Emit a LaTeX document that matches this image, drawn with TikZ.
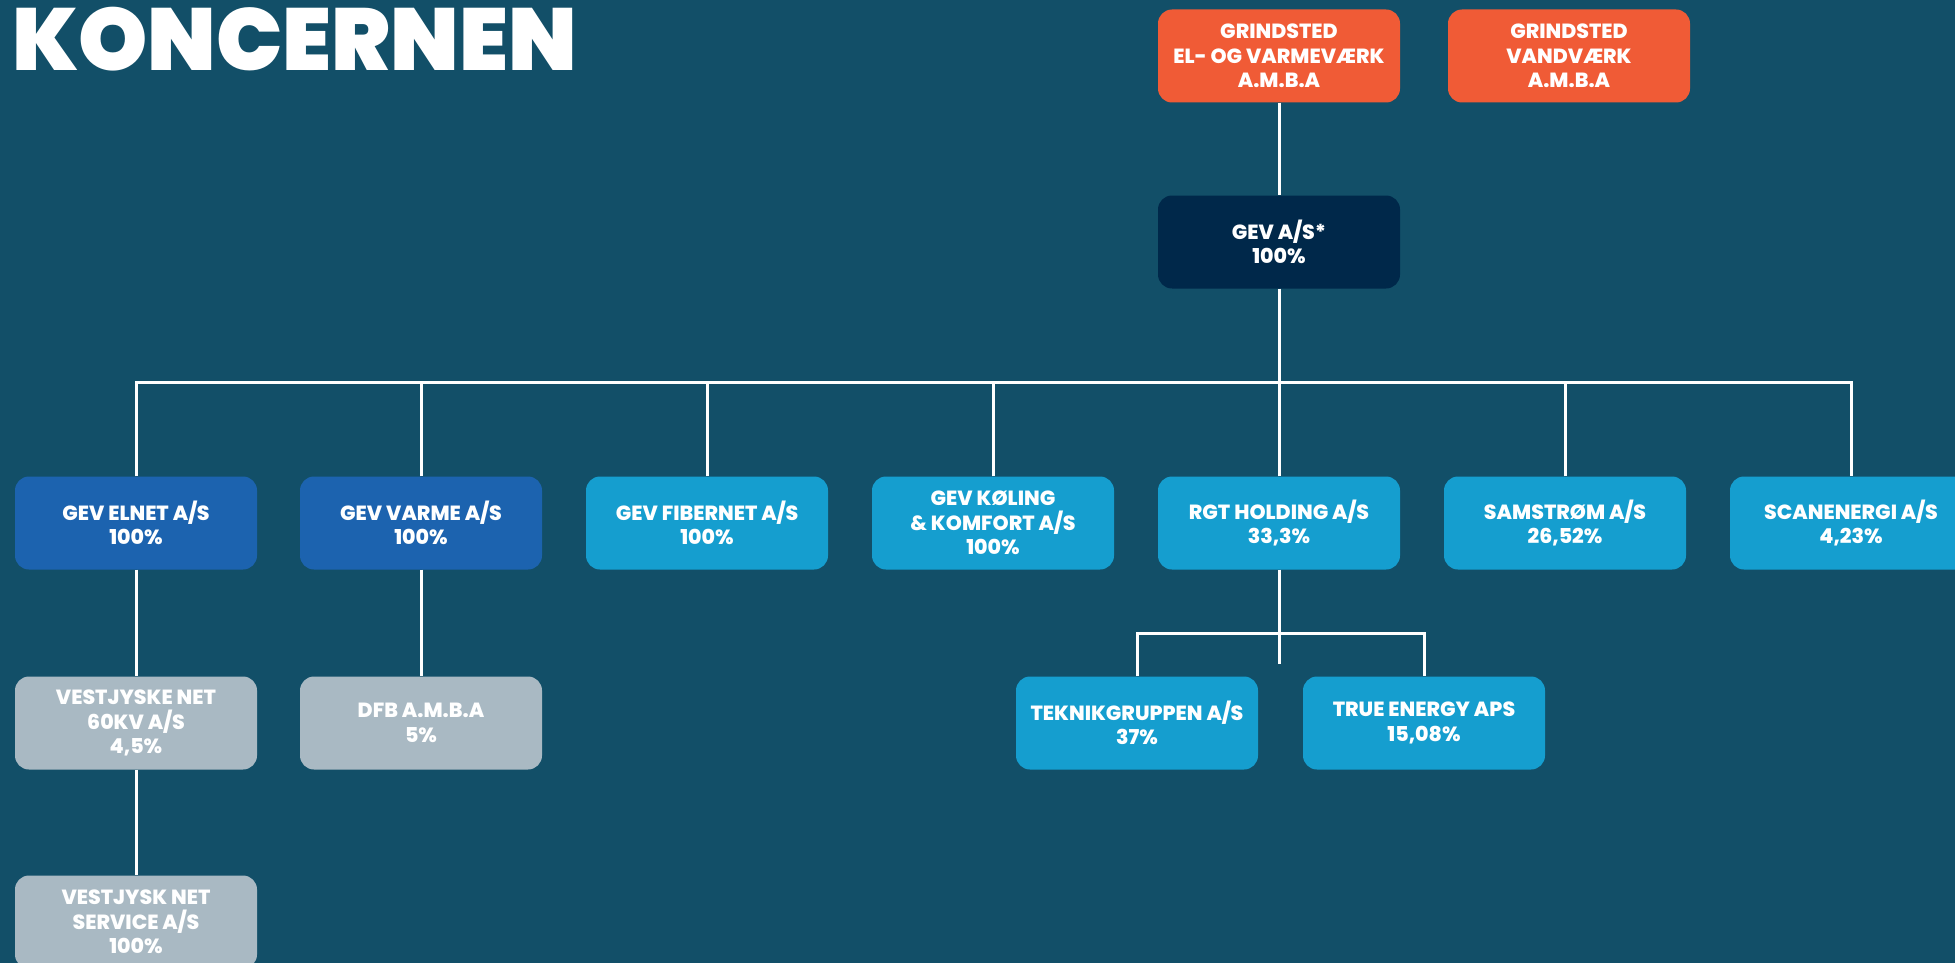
\documentclass[tikz,border=0pt]{standalone}
\usepackage{fontspec}
\setmainfont{Poppins}[BoldFont={Poppins ExtraBold}]
\newfontfamily\titlefont{Poppins Black}
\usetikzlibrary{positioning}
\usetikzlibrary{calc}
\definecolor{bgteal}{RGB}{18,79,104}
\definecolor{ownerorange}{RGB}{240,91,54}
\definecolor{parentnavy}{RGB}{0,40,74}
\definecolor{subblue}{RGB}{28,99,175}
\definecolor{assocblue}{RGB}{21,158,207}
\definecolor{minorgray}{RGB}{169,185,195}
\tikzset{
  orgbox/.style= {rounded corners=14pt, minimum width=242pt, minimum height=93pt,
    align=center, text=white, inner sep=2pt,
    font=\fontsize{20.5}{24.5}\selectfont\bfseries},
  owner/.style= {orgbox, fill=ownerorange},
  parent/.style= {orgbox, fill=parentnavy},
  subsid/.style= {orgbox, fill=subblue},
  assoc/.style= {orgbox, fill=assocblue},
  minority/.style= {orgbox, fill=minorgray},
  link/.style= {draw=white, line width=3pt},
}

\begin{document}
\begin{tikzpicture}[x=1pt, y=-1pt]
  \fill [bgteal] (0,0) rectangle (1955,963) ;
  \useasboundingbox (0,0) rectangle (1955,963) ;
  \clip (0,0) rectangle (1955,963) ;

  \node [text=white, anchor=base west, inner sep=0pt,
    font=\fontsize{88}{88}\titlefont] (title) at (12,71) {KONCERNEN} ;

  \node [owner] (gevamba) at (1279,56) {GRINDSTED\\EL- OG VARMEVÆRK\\A.M.B.A} ;
  \node [owner] (vandvaerk) at (1569,56) {GRINDSTED\\VANDVÆRK\\A.M.B.A} ;
  \node [parent] (gev) at (1279,242) {GEV A/S*\\100\%} ;

  \node [subsid] (elnet) at (136,523) {GEV ELNET A/S\\100\%} ;
  \node [subsid] (varme) at (421,523) {GEV VARME A/S\\100\%} ;
  \node [assoc] (fiber) at (707,523) {GEV FIBERNET A/S\\100\%} ;
  \node [assoc] (koeling) at (993,523) {GEV KØLING\\\& KOMFORT A/S\\100\%} ;
  \node [assoc] (rgt) at (1279,523) {RGT HOLDING A/S\\33,3\%} ;
  \node [assoc] (samstroem) at (1565,523) {SAMSTRØM A/S\\26,52\%} ;
  \node [assoc] (scan) at (1851,523) {SCANENERGI A/S\\4,23\%} ;

  \node [minority] (vestnet) at (136,723) {VESTJYSKE NET\\60KV A/S\\4,5\%} ;
  \node [minority] (dfb) at (421,723) {DFB A.M.B.A\\5\%} ;
  \node [assoc] (teknik) at (1137,723) {TEKNIKGRUPPEN A/S\\37\%} ;
  \node [assoc] (trueenergy) at (1424,723) {TRUE ENERGY APS\\15,08\%} ;

  \node [minority] (netservice) at (136,922) {VESTJYSK NET\\SERVICE A/S\\100\%} ;

  \coordinate (bus) at (1279,382) ;
  \coordinate (subbus) at (1279,633) ;
  \coordinate (rgtend) at (1279,664) ;

  \draw [link] (gevamba) -- (gev) ;
  \draw [link] (gev) -- (bus) ;
  \draw [link] (elnet.north) |- (bus) -| (scan.north) ;
  \foreach \n in {varme, fiber, koeling, rgt, samstroem}
    \draw [link] (\n.north) -- (\n.north |- bus) ;
  \draw [link] (elnet) -- (vestnet) ;
  \draw [link] (vestnet) -- (netservice) ;
  \draw [link] (varme) -- (dfb) ;
  \draw [link] (rgt) -- (rgtend) ;
  \draw [link] (teknik.north) |- (subbus) -| (trueenergy.north) ;
\end{tikzpicture}
\end{document}
